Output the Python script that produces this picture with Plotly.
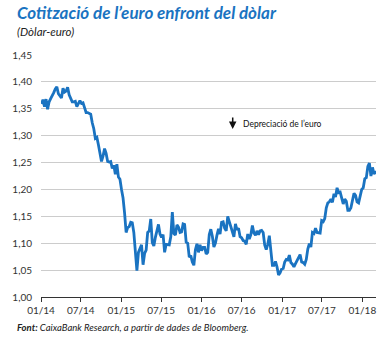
import pandas as pd
import plotly.graph_objects as go

# Weekly EUR/USD (Friday closes), Jan 2014 - Mar 2018
v2014 = [1.359, 1.367, 1.354, 1.368, 1.349, 1.363, 1.369, 1.374, 1.380, 1.387, 1.391, 1.378, 1.375,
         1.370, 1.388, 1.381, 1.383, 1.390, 1.376, 1.369, 1.363, 1.363, 1.364, 1.354, 1.360, 1.365,
         1.360, 1.361, 1.352, 1.343, 1.343, 1.341, 1.340, 1.324, 1.313, 1.295, 1.297, 1.283, 1.268,
         1.252, 1.262, 1.276, 1.267, 1.252, 1.251, 1.252, 1.239, 1.245, 1.228, 1.247, 1.223, 1.219]
v2015 = [1.200, 1.184, 1.156, 1.120, 1.129, 1.131, 1.139, 1.138, 1.120, 1.084, 1.049, 1.083, 1.089,
         1.097, 1.060, 1.081, 1.087, 1.120, 1.123, 1.145, 1.101, 1.095, 1.111, 1.126, 1.135, 1.117,
         1.111, 1.116, 1.083, 1.098, 1.098, 1.097, 1.112, 1.158, 1.118, 1.115, 1.134, 1.130, 1.120,
         1.121, 1.136, 1.135, 1.102, 1.100, 1.074, 1.077, 1.065, 1.059, 1.088, 1.099, 1.083, 1.097]
v2016 = [1.086, 1.092, 1.092, 1.080, 1.083, 1.116, 1.126, 1.113, 1.093, 1.100, 1.115, 1.127, 1.117,
         1.139, 1.140, 1.128, 1.123, 1.150, 1.140, 1.131, 1.122, 1.112, 1.136, 1.125, 1.128, 1.112,
         1.110, 1.105, 1.104, 1.098, 1.117, 1.108, 1.116, 1.133, 1.119, 1.115, 1.123, 1.116, 1.123,
         1.124, 1.120, 1.097, 1.088, 1.098, 1.114, 1.086, 1.059, 1.059, 1.066, 1.056, 1.041, 1.045,
         1.052]
v2017 = [1.053, 1.065, 1.070, 1.069, 1.078, 1.064, 1.061, 1.056, 1.062, 1.067, 1.074, 1.079, 1.065,
         1.064, 1.061, 1.070, 1.089, 1.099, 1.093, 1.120, 1.118, 1.128, 1.120, 1.120, 1.119, 1.142,
         1.140, 1.146, 1.166, 1.175, 1.177, 1.182, 1.176, 1.192, 1.186, 1.203, 1.194, 1.195, 1.181,
         1.173, 1.182, 1.178, 1.161, 1.161, 1.166, 1.179, 1.193, 1.189, 1.177, 1.175, 1.186, 1.200]
v2018 = [1.203, 1.220, 1.222, 1.243, 1.249, 1.225, 1.241, 1.229, 1.232, 1.231]

values = v2014 + v2015 + v2016 + v2017 + v2018
dates = pd.date_range("2014-01-03", periods=len(values), freq="7D")

title = "Cotització de l’euro enfront del dòlar"
subtitle = "(Dòlar-euro)"
note = "Depreciació de l’euro"
source_bold = "Font:"
source_text = " CaixaBank Research, a partir de dades de Bloomberg."

BLUE = "#1a73c1"
FONT = "Lato"

fig = go.Figure()
fig.add_trace(go.Scatter(x=dates, y=values, mode="lines",
                         line=dict(color=BLUE, width=2.8), hoverinfo="skip"))

fig.update_layout(
    width=392, height=338,
    margin=dict(l=37, r=16, t=55, b=41),
    paper_bgcolor="white", plot_bgcolor="white",
    separators=",.",
    showlegend=False,
    font=dict(family=FONT, size=10, color="#333333"),
    xaxis=dict(range=["2014-01-01", "2018-03-04"], tickformat="%m/%y", dtick="M6",
               tick0="2014-01-01", ticks="outside", ticklen=4, tickcolor="#333333",
               showline=True, linecolor="#333333", linewidth=1, showgrid=False,
               tickfont=dict(size=10, color="#333333"), zeroline=False),
    yaxis=dict(range=[1.0, 1.45], dtick=0.05, tickformat=".2f", showgrid=True,
               gridcolor="#cccccc", gridwidth=1, zeroline=False, showline=False,
               ticks="", ticklabelstandoff=8,
               tickfont=dict(size=10, color="#333333")),
)

fig.add_annotation(xref="paper", yref="paper", x=-37/339 + 11/339, y=1 + 42/242,
                   xanchor="left", yanchor="middle", showarrow=False,
                   text="<b><i>" + title + "</i></b>",
                   font=dict(family=FONT, size=17, color=BLUE))
fig.add_annotation(xref="paper", yref="paper", x=-37/339 + 11/339, y=1 + 23/242,
                   xanchor="left", yanchor="middle", showarrow=False,
                   text="<i>" + subtitle + "</i>",
                   font=dict(family=FONT, size=11.5, color="#222222"))
fig.add_annotation(xref="paper", yref="paper", x=(231 - 37) / 339, y=(297 - 129) / 242,
                   ax=0, ay=-13, showarrow=True, arrowhead=2, arrowsize=1, arrowwidth=1.5,
                   arrowcolor="#111111", text="")
fig.add_annotation(xref="paper", yref="paper", x=(239 - 37) / 339, y=(297 - 124) / 242,
                   xanchor="left", yanchor="middle", showarrow=False,
                   text=note, font=dict(family=FONT, size=8.5, color="#111111"))
fig.add_annotation(xref="paper", yref="paper", x=-37/339 + 11/339, y=-(327 - 297) / 242,
                   xanchor="left", yanchor="middle", showarrow=False,
                   text="<b><i>" + source_bold + "</i></b><i>" + source_text + "</i>",
                   font=dict(family=FONT, size=9.5, color="#222222"))

fig.write_html("out.html")
